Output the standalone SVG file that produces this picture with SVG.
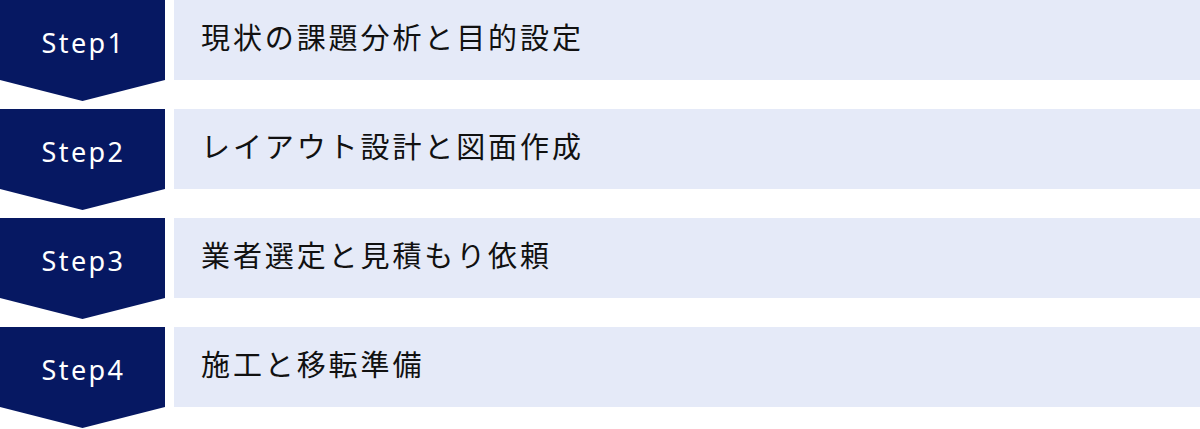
<svg xmlns="http://www.w3.org/2000/svg" width="1200" height="429" viewBox="0 0 1200 429">
<style>
.chev{fill:#061862}
.bar{fill:#e5eaf8}
.lbl{font-family:"Noto Sans","Liberation Sans",sans-serif;font-size:27px;fill:#ffffff;text-anchor:middle;letter-spacing:2.4px}
.txt{font-family:"Noto Sans CJK JP","Noto Sans",sans-serif;font-size:29px;fill:#111111;letter-spacing:2.9px}
</style>
<g id="connectors"></g>
<g id="step1">
<polygon class="chev" points="0,0 165,0 165,80 82.5,101 0,80"/>
<rect class="bar" x="174" y="0" width="1026" height="80"/>
<text class="lbl" x="83.5" y="53">Step1</text>
<text class="txt" x="201" y="49">現状の課題分析と目的設定</text>
</g>
<g id="step2">
<polygon class="chev" points="0,109 165,109 165,189 82.5,210 0,189"/>
<rect class="bar" x="174" y="109" width="1026" height="80"/>
<text class="lbl" x="83.5" y="162">Step2</text>
<text class="txt" x="201" y="158">レイアウト設計と図面作成</text>
</g>
<g id="step3">
<polygon class="chev" points="0,218 165,218 165,298 82.5,319 0,298"/>
<rect class="bar" x="174" y="218" width="1026" height="80"/>
<text class="lbl" x="83.5" y="271">Step3</text>
<text class="txt" x="201" y="267">業者選定と見積もり依頼</text>
</g>
<g id="step4">
<polygon class="chev" points="0,327 165,327 165,407 82.5,428 0,407"/>
<rect class="bar" x="174" y="327" width="1026" height="80"/>
<text class="lbl" x="83.5" y="380">Step4</text>
<text class="txt" x="201" y="376">施工と移転準備</text>
</g>
</svg>
